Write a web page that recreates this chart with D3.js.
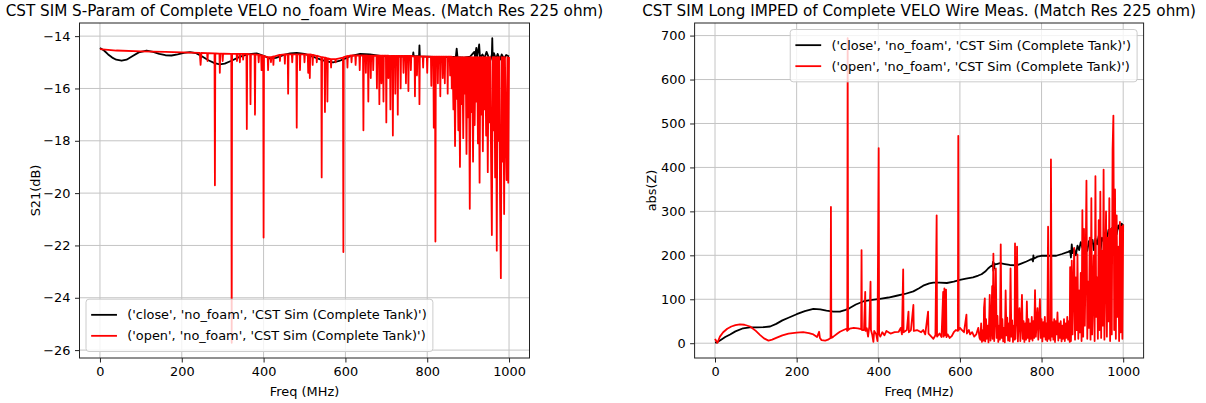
<!DOCTYPE html>
<html><head><meta charset="utf-8">
<script src="https://cdn.jsdelivr.net/npm/d3@7"></script>
<style>
body{margin:0;background:#fff}
svg{display:block}
text{font-family:"DejaVu Sans",sans-serif;fill:#000}
</style>
</head><body>
<svg id="c" width="1206" height="403"></svg>
<script>
// ---------- data ----------
const freqTicks = [0, 200, 400, 600, 800, 1000];
const s21Ticks = [-26, -24, -22, -20, -18, -16, -14];
const zTicks = [0, 100, 200, 300, 400, 500, 600, 700];
const seriesLabels = ["('close', 'no_foam', 'CST Sim (Complete Tank)')", "('open', 'no_foam', 'CST Sim (Complete Tank)')"];
const seriesColors = ["#000000", "#ff0000"];
const titleS21 = "CST SIM S-Param of Complete VELO no_foam Wire Meas. (Match Res 225 ohm)";
const titleZ = "CST SIM Long IMPED of Complete VELO Wire Meas. (Match Res 225 ohm)";
const xLabel = "Freq (MHz)";
const yLabelS21 = "S21(dB)";
const yLabelZ = "abs(Z)";

// [freq MHz, S21 dB] close
const closeS21 = [[0,-14.45],[10,-14.55],[20,-14.7],[30,-14.82],[40,-14.9],[53,-14.94],[65,-14.9],[80,-14.76],[95,-14.62],[114,-14.55],[130,-14.6],[145,-14.68],[160,-14.73],[175,-14.74],[190,-14.7],[205,-14.64],[220,-14.61],[235,-14.65],[250,-14.78],[265,-14.92],[280,-15.03],[293,-15.08],[305,-15.05],[320,-14.95],[340,-14.8],[360,-14.7],[383,-14.66],[400,-14.75],[416,-14.86],[430,-14.83],[450,-14.72],[465,-14.66],[481,-14.64],[500,-14.68],[520,-14.78],[540,-14.9],[555,-14.97],[570,-15.0],[585,-14.95],[600,-14.85],[615,-14.75],[636,-14.68],[660,-14.7],[690,-14.76],[720,-14.78],[750,-14.78],[765,-14.76],[766,-14.62],[767,-14.77],[780,-14.76],[781,-14.35],[782,-14.77],[800,-14.78],[830,-14.8],[860,-14.8],[870,-14.78],[872,-14.48],[874,-14.8],[890,-14.82],[905,-14.78],[915,-14.6],[917,-14.78],[920,-14.45],[922,-14.8],[927,-14.32],[929,-14.82],[935,-14.7],[940,-14.85],[945,-14.6],[950,-14.8],[955,-14.9],[958,-14.7],[959,-14.08],[960,-14.8],[963,-14.65],[968,-14.88],[972,-14.68],[978,-14.9],[982,-14.7],[988,-14.86],[993,-14.72],[1000,-14.78]];

// [freq MHz, S21 dB] open
const openS21 = [[0,-14.5],[40,-14.55],[100,-14.58],[160,-14.6],[220,-14.63],[244,-14.64],[246,-15.1],[248,-14.64],[262,-14.65],[263,-14.95],[264,-14.65],[280,-14.66],[281,-19.7],[282,-14.66],[292,-14.67],[293,-15.4],[294,-14.67],[299,-14.67],[300,-14.95],[301,-14.67],[321,-14.68],[322,-25.72],[323,-14.68],[334,-14.68],[335,-14.95],[336,-14.68],[341,-14.68],[342,-15.0],[343,-14.68],[349,-14.68],[350,-14.9],[351,-14.68],[358,-14.68],[359,-17.55],[360,-14.68],[367,-14.7],[368,-16.6],[369,-14.7],[378,-14.7],[379,-17.0],[380,-14.7],[387,-14.72],[388,-15.0],[389,-14.72],[394,-14.74],[395,-15.3],[396,-14.74],[399,-14.75],[400,-21.7],[401,-14.76],[410,-14.8],[411,-15.3],[412,-14.8],[417,-14.8],[418,-15.0],[419,-14.8],[423,-14.78],[424,-15.1],[425,-14.78],[439,-14.72],[440,-14.95],[441,-14.72],[451,-14.7],[452,-15.05],[453,-14.7],[459,-14.7],[460,-16.2],[461,-14.7],[469,-14.7],[470,-15.0],[471,-14.7],[480,-14.7],[481,-17.5],[482,-14.7],[488,-14.7],[489,-15.3],[490,-14.7],[499,-14.7],[500,-15.0],[501,-14.7],[508,-14.7],[509,-15.4],[510,-14.7],[512,-14.7],[513,-15.6],[514,-14.7],[519,-14.72],[520,-15.1],[521,-14.72],[529,-14.75],[530,-15.0],[531,-14.75],[541,-14.8],[542,-19.4],[543,-14.8],[549,-14.82],[550,-16.9],[551,-14.82],[555,-14.85],[556,-16.5],[557,-14.85],[564,-14.88],[565,-15.2],[566,-14.88],[575,-14.88],[576,-15.0],[577,-14.88],[594,-14.82],[595,-22.25],[596,-14.8],[604,-14.76],[605,-15.2],[606,-14.76],[614,-14.74],[615,-15.0],[616,-14.74],[624,-14.74],[625,-15.1],[626,-14.74],[634,-14.74],[635,-15.3],[636,-14.74],[643,-14.74],[644,-17.6],[645,-14.74],[649,-14.74],[650,-15.4],[651,-14.74],[655,-14.75],[656,-16.5],[657,-14.75],[661,-14.75],[662,-15.6],[663,-14.75],[667,-14.75],[668,-15.3],[669,-14.75],[676,-14.75],[677,-16.0],[678,-14.75],[682,-14.75],[683,-16.6],[684,-14.75],[687,-14.75],[688,-15.8],[689,-14.75],[692,-14.75],[693,-16.5],[694,-14.75],[699,-14.75],[700,-17.3],[701,-14.75],[704,-14.75],[705,-15.6],[706,-14.75],[709,-14.76],[710,-16.8],[711,-14.76],[715,-14.76],[716,-17.8],[717,-14.76],[721,-14.76],[722,-16.2],[723,-14.76],[727,-14.76],[728,-17.0],[729,-14.76],[734,-14.76],[735,-16.0],[736,-14.76],[741,-14.76],[742,-15.4],[743,-14.76],[747,-14.76],[748,-15.8],[749,-14.76],[753,-14.76],[754,-16.1],[755,-14.76],[759,-14.76],[760,-15.3],[761,-14.76],[769,-14.77],[770,-16.3],[771,-14.77],[774,-14.77],[775,-15.5],[776,-14.77],[780,-14.77],[781,-16.6],[782,-14.77],[789,-14.77],[790,-15.2],[791,-14.77],[799,-14.78],[800,-15.4],[801,-14.78],[809,-14.78],[810,-15.9],[811,-14.78],[815,-14.78],[816,-17.5],[817,-14.78],[819,-14.78],[820,-21.85],[821,-14.78],[825,-14.78],[826,-15.8],[827,-14.78],[831,-14.78],[832,-16.3],[833,-14.78],[837,-14.78],[838,-15.6],[839,-14.78],[842,-14.78],[843,-15.8],[844,-14.78],[849,-14.78],[850,-16.2],[851,-14.78],[855,-14.78],[856,-15.5],[857,-14.78],[859,-14.78],[860,-16.0],
[862,-14.8],[864,-16.8],[866,-14.8],[868,-18.2],[870,-14.8],[872,-16.4],[874,-14.8],[876,-17.6],[878,-14.8],[880,-19.0],[882,-14.8],[884,-16.6],[886,-14.8],[888,-17.9],[890,-14.8],[892,-16.2],[894,-14.8],[896,-18.5],[898,-14.8],[900,-17.1],[902,-14.8],[904,-20.6],[906,-14.8],[908,-16.9],[910,-14.8],[912,-18.8],[914,-14.8],[916,-17.4],[918,-14.8],[920,-16.5],[922,-14.8],[924,-18.1],[926,-14.8],[928,-19.6],[930,-14.8],[932,-17.0],[934,-14.8],[936,-18.4],[938,-14.8],[940,-16.8],[942,-14.8],[944,-17.8],[946,-14.8],[948,-19.2],[950,-14.8],[952,-17.3],[954,-14.8],[956,-18.6],[958,-21.6],[960,-14.8],[962,-17.6],[964,-14.8],[966,-19.4],[968,-14.8],[970,-22.2],[972,-14.8],[974,-18.0],[976,-14.8],[978,-20.2],[980,-23.25],[982,-14.8],[984,-18.8],[986,-14.8],[988,-20.8],[990,-14.8],[992,-17.5],[994,-19.5],[996,-14.8],[998,-19.6],[1000,-14.8]];

// [freq MHz, |Z| ohm] close
const closeZ = [[0,2],[4,1.5],[15,8],[25,14],[37,20],[50,27],[69,34],[85,36],[102,36],[120,36.5],[135,38],[150,44],[165,52],[180,58],[200,66],[220,73],[241,78],[258,77],[273,74],[290,72],[306,72],[320,76],[330,80],[345,88],[363,95],[380,98],[404,101],[425,104],[445,108],[465,112],[486,118],[500,125],[510,131],[525,136],[535,138],[550,138],[568,137],[585,140],[600,144],[615,147],[632,150],[645,154],[653,157],[662,163],[669,170],[675,175],[680,177],[681,185],[682,165],[683,183],[684,170],[685,180],[690,180],[698,182],[710,180],[722,178],[739,177],[750,181],[763,186],[772,190],[778,192],[779,186],[780,200],[781,192],[790,197],[799,199],[815,199],[836,199],[850,203],[865,208],[870,210],[872,195],[874,225],[876,205],[880,215],[884,200],[888,222],[892,212],[896,230],[900,218],[904,240],[908,225],[912,210],[916,232],[920,220],[925,235],[928,212],[932,238],[936,225],[940,244],[944,205],[948,240],[952,232],[956,252],[960,236],[964,258],[968,245],[972,262],[976,250],[980,266],[984,248],[988,268],[992,258],[996,272],[1000,268]];

// [freq MHz, |Z| ohm] open
const openZ = [[0,10],[3,5],[6,1],[12,15],[20,25],[30,33],[40,38],[50,41],[61,43],[72,42],[86,38],[100,28],[110,19],[120,11],[131,6],[140,8],[150,12],[165,18],[180,22],[200,24],[216,25],[230,23],[241,20],[250,14],[255,26],[257,12],[261,7],[270,6],[277,8],[283,12],[284,310],[285,12],[290,15],[300,22],[306,26],[315,30],[322,33],[324,28],[325,694],[326,30],[330,33],[340,35],[350,34],[358,32],[359,212],[360,30],[365,30],[368,117],[369,28],[372,34],[375,15],[378,38],[381,140],[382,30],[385,20],[388,3],[390,28],[395,20],[398,5],[401,444],[402,20],[405,15],[410,25],[415,18],[420,28],[430,22],[440,25],[450,26],[455,35],[458,20],[461,168],[462,25],[470,30],[474,72],[475,25],[480,30],[486,87],[487,28],[495,30],[505,25],[510,30],[515,20],[522,72],[523,22],[530,15],[535,10],[540,18],[543,291],[544,15],[550,22],[555,14],[559,117],[560,15],[562,125],[563,18],[566,122],[567,14],[570,20],[575,12],[580,16],[585,25],[590,30],[595,28],[596,472],[597,30],[600,35],[605,30],[610,25],[616,65],[617,22],[622,30],[625,20],[630,25],[635,15],[640,20],[645,35],[648,12],
[650,8],[652,45],[654,3],[656,30],[658,6],[659,80],[661,102],[662,4],[664,55],[666,10],[668,40],[670,2],[672,65],[673,110],[675,6],[677,48],[679,130],[680,10],[682,204],[684,5],[686,58],[688,170],[690,12],[692,62],[694,3],[696,40],[698,8],[700,225],[702,12],[704,55],[706,4],[708,35],[710,2],[712,120],[714,18],[716,58],[718,6],[720,45],[722,5],[724,170],[726,15],[728,52],[730,3],[732,40],[734,8],[735,227],[736,10],[738,60],[740,220],[742,4],[744,50],[746,80],[748,5],[750,42],[752,110],[754,10],[756,50],[758,3],[760,45],[762,8],[764,95],[766,12],[768,55],[770,4],[772,45],[774,10],[776,60],[778,6],[780,50],[782,12],[784,121],[786,15],[788,48],[790,80],[792,8],[794,52],[796,100],[798,12],[800,55],[802,4],[804,48],[806,15],[808,60],[810,8],[812,45],[814,5],[816,265],[818,10],[820,50],[822,6],[823,418],[825,15],[827,48],[829,8],[831,55],[833,3],[835,50],[837,20],[839,70],[841,6],[843,45],[845,12],[847,50],[849,4],[851,40],[853,10],[855,55],[857,5],[859,45],[861,12],[863,60],[865,8],[867,50],[869,3],
[870,173],[872,5],[874,188],[876,20],[878,130],[880,217],[882,8],[884,150],[886,30],[888,202],[890,10],[892,120],[894,25],[896,160],[898,5],[900,303],[902,15],[904,260],[906,40],[908,180],[910,370],[912,10],[914,140],[916,35],[918,240],[920,8],[922,330],[924,20],[926,110],[928,200],[930,5],[932,380],[934,60],[936,150],[938,10],[940,280],[942,30],[944,345],[946,12],[948,210],[950,40],[952,395],[954,8],[956,170],[958,300],[960,15],[962,240],[964,50],[966,330],[968,5],[970,260],[972,20],[974,440],[976,518],[978,30],[980,350],[982,10],[984,291],[986,60],[988,220],[990,5],[992,276],[994,25],[996,265],[998,10],[1000,270]];

// ---------- drawing ----------
const svg = d3.select("#c");
const FONT = 12.9;
const TITLE_FONT = 15.2;

function panel(opt) {
  const {left, top, width, height} = opt;
  const all = opt.series.flat();
  const xe = d3.extent(all, d => d[0]);
  const ye = d3.extent(all, d => d[1]);
  const xm = (xe[1] - xe[0]) * 0.05, ym = (ye[1] - ye[0]) * 0.05;
  const x = d3.scaleLinear().domain([xe[0] - xm, xe[1] + xm]).range([left, left + width]);
  const y = d3.scaleLinear().domain([ye[0] - ym, ye[1] + ym]).range([top + height, top]);
  const g = svg.append("g");
  const cid = "clip" + opt.id;
  svg.append("clipPath").attr("id", cid).append("rect")
    .attr("x", left).attr("y", top).attr("width", width).attr("height", height);

  // grid
  g.append("g").selectAll("line").data(opt.xTicks).join("line")
    .attr("x1", d => x(d)).attr("x2", d => x(d)).attr("y1", top).attr("y2", top + height)
    .attr("stroke", "#c4c4c4").attr("stroke-width", 1);
  g.append("g").selectAll("line").data(opt.yTicks).join("line")
    .attr("y1", d => y(d)).attr("y2", d => y(d)).attr("x1", left).attr("x2", left + width)
    .attr("stroke", "#c4c4c4").attr("stroke-width", 1);

  // lines
  const line = d3.line().x(d => x(d[0])).y(d => y(d[1]));
  const lg = g.append("g").attr("clip-path", `url(#${cid})`);
  opt.series.forEach((s, i) => {
    lg.append("path").attr("d", line(s)).attr("fill", "none")
      .attr("stroke", seriesColors[i]).attr("stroke-width", 1.8)
      .attr("stroke-linejoin", "round");
  });

  // axes
  const fmt = d => d < 0 ? "\u2212" + Math.abs(d) : String(d);
  const xa = g.append("g").attr("transform", `translate(0,${top + height})`)
    .call(d3.axisBottom(x).tickValues(opt.xTicks).tickFormat(fmt).tickSize(4.5).tickPadding(4.5));
  const ya = g.append("g").attr("transform", `translate(${left},0)`)
    .call(d3.axisLeft(y).tickValues(opt.yTicks).tickFormat(fmt).tickSize(4.5).tickPadding(4.5));
  [xa, ya].forEach(a => {
    a.select(".domain").remove();
    a.selectAll("line").attr("stroke", "#222").attr("stroke-width", 1);
    a.selectAll("text").attr("font-size", FONT).attr("font-family", "DejaVu Sans").attr("fill", "#111");
  });
  g.append("rect").attr("x", left).attr("y", top).attr("width", width).attr("height", height)
    .attr("fill", "none").attr("stroke", "#222").attr("stroke-width", 1);

  // labels
  g.append("text").attr("x", left + width / 2).attr("y", 391).attr("dy", "0.35em")
    .attr("text-anchor", "middle").attr("font-size", FONT).text(xLabel);
  g.append("text").attr("transform", `translate(${opt.ylabelX},${top + height / 2}) rotate(-90)`)
    .attr("dy", "0.35em").attr("text-anchor", "middle").attr("font-size", FONT).text(opt.ylabel);
  g.append("text").attr("x", left + width / 2).attr("y", 11).attr("dy", "0.35em")
    .attr("text-anchor", "middle").attr("font-size", TITLE_FONT).text(opt.title);

  // legend
  const lgd = g.append("g");
  const texts = seriesLabels.map((t, i) => lgd.append("text").attr("font-size", FONT).text(t));
  const tw = d3.max(texts, t => t.node().getComputedTextLength());
  const pad = 0.4 * FONT, handle = 2 * FONT, hpad = 0.8 * FONT, rowH = 21;
  const bw = pad * 2 + handle + hpad + tw + 1, bh = pad * 2 + rowH * 2;
  const bx = opt.legendPos === "ll" ? left + 6.5 : left + width - 6.5 - bw;
  const by = opt.legendPos === "ll" ? top + height - 6.5 - bh : top + 6.5;
  lgd.insert("rect", "text").attr("x", bx).attr("y", by).attr("width", bw).attr("height", bh)
    .attr("rx", 3).attr("fill", "#fff").attr("fill-opacity", 0.8).attr("stroke", "#cccccc").attr("stroke-width", 1);
  texts.forEach((t, i) => {
    const cy = by + pad + rowH / 2 + i * rowH;
    lgd.append("line").attr("x1", bx + pad).attr("x2", bx + pad + handle)
      .attr("y1", cy).attr("y2", cy).attr("stroke", seriesColors[i]).attr("stroke-width", 1.8);
    t.attr("x", bx + pad + handle + hpad).attr("y", cy).attr("dy", "0.35em");
  });
}

panel({id: "a", left: 79.5, top: 23, width: 450, height: 335, series: [closeS21, openS21],
  xTicks: freqTicks, yTicks: s21Ticks, title: titleS21, ylabel: yLabelS21, ylabelX: 35, legendPos: "ll"});
panel({id: "b", left: 694.6, top: 23, width: 449, height: 335, series: [closeZ, openZ],
  xTicks: freqTicks, yTicks: zTicks, title: titleZ, ylabel: yLabelZ, ylabelX: 651, legendPos: "ur"});
</script>
</body></html>
